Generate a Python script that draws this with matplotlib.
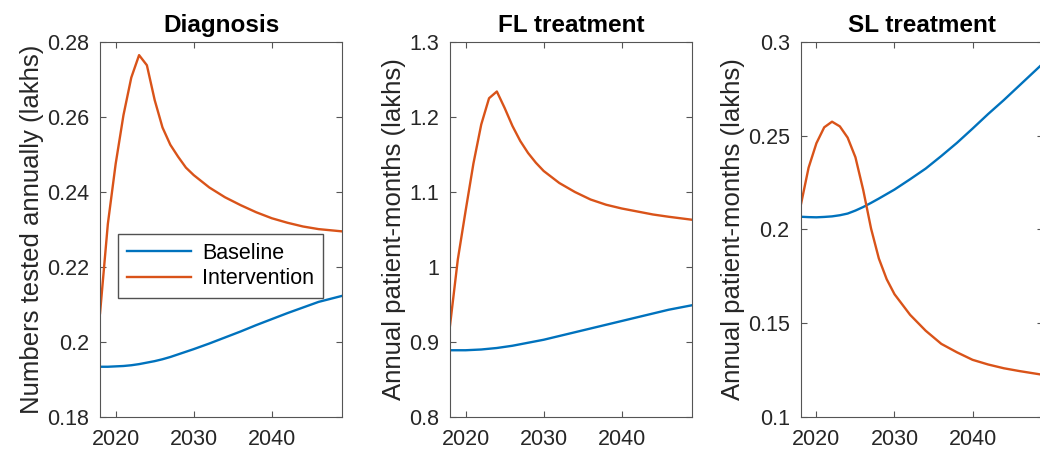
import numpy as np
import matplotlib.pyplot as plt
from matplotlib.ticker import FuncFormatter

plt.rcParams['font.family'] = ['Liberation Sans', 'DejaVu Sans']

# years
years = [2018, 2019, 2020, 2021, 2022, 2023, 2024, 2025, 2026, 2027, 2028, 2029,
         2030, 2032, 2034, 2036, 2038, 2040, 2042, 2044, 2046, 2049]

diag_base = [0.1934, 0.1934, 0.1935, 0.1936, 0.1938, 0.1941, 0.1945, 0.1949, 0.1954,
             0.1960, 0.1967, 0.1974, 0.1981, 0.1996, 0.2012, 0.2028, 0.2045, 0.2061,
             0.2077, 0.2092, 0.2107, 0.2123]
diag_int = [0.2077, 0.2315, 0.2475, 0.2605, 0.2705, 0.2765, 0.2738, 0.2645, 0.2572,
            0.2526, 0.2494, 0.2465, 0.2445, 0.2412, 0.2386, 0.2365, 0.2346, 0.2330,
            0.2318, 0.2308, 0.2301, 0.2295]

fl_base = [0.889, 0.889, 0.889, 0.8895, 0.890, 0.891, 0.892, 0.8935, 0.895, 0.897,
           0.899, 0.901, 0.903, 0.908, 0.913, 0.918, 0.923, 0.928, 0.933, 0.938,
           0.943, 0.949]
fl_int = [0.922, 1.010, 1.075, 1.138, 1.190, 1.225, 1.234, 1.212, 1.188, 1.168,
          1.152, 1.139, 1.128, 1.112, 1.100, 1.090, 1.083, 1.078, 1.074, 1.070,
          1.067, 1.063]

sl_base = [0.2068, 0.2066, 0.2065, 0.2067, 0.2070, 0.2076, 0.2085, 0.2101, 0.2120,
           0.2142, 0.2165, 0.2189, 0.2213, 0.2268, 0.2325, 0.2392, 0.2462, 0.2538,
           0.2616, 0.2690, 0.2768, 0.2885]
sl_int = [0.2130, 0.2330, 0.2460, 0.2545, 0.2575, 0.2550, 0.2490, 0.2385, 0.2210,
          0.2005, 0.1845, 0.1735, 0.1655, 0.1545, 0.1460, 0.1390, 0.1345, 0.1305,
          0.1280, 0.1260, 0.1245, 0.1225]

titles = ['Diagnosis', 'FL treatment', 'SL treatment']
ylabels = ['Numbers tested annually (lakhs)', 'Annual patient-months (lakhs)',
           'Annual patient-months (lakhs)']
ylims = [(0.18, 0.28), (0.8, 1.3), (0.1, 0.3)]
yticks = [np.arange(0.18, 0.2801, 0.02), np.arange(0.8, 1.301, 0.1), np.arange(0.1, 0.301, 0.05)]
xticks = [2020, 2030, 2040]

blue = '#0072BD'
orange = '#D95319'
txtcol = '#262626'
axcol = '#555555'

fig = plt.figure(figsize=(10.4, 4.54), dpi=100)
lefts = [0.0962, 0.4327, 0.770]
series = [(diag_base, diag_int), (fl_base, fl_int), (sl_base, sl_int)]

for i in range(3):
    ax = fig.add_axes([lefts[i], 0.0815, 0.2327, 0.826])
    b, iv = series[i]
    ax.plot(years, b, color=blue, lw=1.7, label='Baseline')
    ax.plot(years, iv, color=orange, lw=1.7, label='Intervention')
    ax.set_xlim(2018, 2049)
    ax.set_ylim(*ylims[i])
    ax.set_xticks(xticks)
    ax.set_yticks(yticks[i])
    ax.yaxis.set_major_formatter(FuncFormatter(lambda v, p: '%g' % round(v, 3)))
    ax.tick_params(direction='in', top=True, right=True, length=4, width=0.8,
                   color=axcol, labelcolor=txtcol, labelsize=15.5)
    ax.tick_params(axis='x', pad=9)
    ax.tick_params(axis='y', pad=8)
    for s in ax.spines.values():
        s.set_color(axcol)
        s.set_linewidth(0.8)
    ax.set_title(titles[i], fontsize=17.5, fontweight='bold', pad=7)
    ax.set_ylabel(ylabels[i], fontsize=18.5, color=txtcol, labelpad=2)
    if i == 0:
        ax.legend(loc='lower left', bbox_to_anchor=(0.075, 0.318), fontsize=15.5,
                  handlelength=3, frameon=True, fancybox=False, edgecolor=txtcol,
                  borderpad=0.4, labelspacing=0.2, handletextpad=0.5,
                  borderaxespad=0)

fig.savefig('out.png', dpi=100)
